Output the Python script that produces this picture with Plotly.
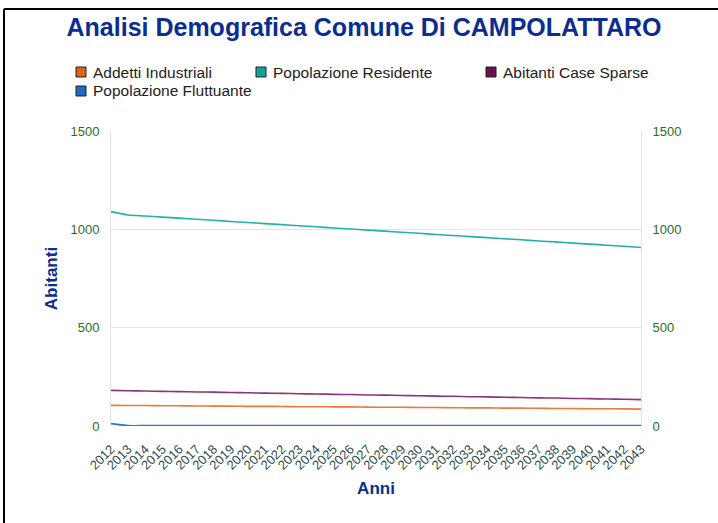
import plotly.graph_objects as go

# dati (valori stimati)
anni = list(range(2012, 2044))

addetti_industriali = [105, 104, 104, 103, 103, 102, 101, 101, 100, 100, 99, 98, 98, 97, 97, 96,
                       95, 95, 94, 94, 93, 92, 92, 91, 91, 90, 89, 89, 88, 88, 87, 86]
popolazione_residente = [1090, 1073, 1068, 1062, 1057, 1051, 1046, 1040, 1035, 1029, 1024, 1018,
                         1013, 1007, 1002, 996, 991, 985, 980, 974, 969, 963, 958, 952, 947, 941,
                         936, 930, 925, 919, 914, 908]
abitanti_case_sparse = [181, 179, 178, 176, 175, 173, 172, 170, 169, 167, 166, 164, 163, 161, 160,
                        158, 157, 155, 154, 152, 151, 149, 148, 146, 145, 143, 142, 140, 139, 137,
                        136, 134]
popolazione_fluttuante = [12, 2, 2, 2, 2, 2, 2, 2, 2, 2, 2, 2, 2, 2, 2, 2,
                          2, 2, 2, 2, 2, 2, 2, 2, 2, 2, 2, 2, 2, 2, 2, 2]

y_ticks = [0, 500, 1000, 1500]

series = [
    ("Addetti Industriali", addetti_industriali, "#ec7a36", "#dc6418"),
    ("Popolazione Residente", popolazione_residente, "#22b0ab", "#15a09a"),
    ("Abitanti Case Sparse", abitanti_case_sparse, "#8a3479", "#6b0f4f"),
    ("Popolazione Fluttuante", popolazione_fluttuante, "#2479cc", "#1c6cc0"),
]

# area del grafico in pixel
W, H = 718, 523
L, R, T, B = 111, 641, 131, 426


def px(x):
    return (x - L) / (R - L)


def py(y):
    return (B - y) / (B - T)


fig = go.Figure()

for name, vals, line_col, sw_col in series:
    fig.add_trace(go.Scatter(
        x=anni, y=vals, mode="lines", name=name, showlegend=False,
        line=dict(color=line_col, width=1.6, shape="spline", smoothing=0.6),
    ))

# asse destro con gli stessi valori
fig.add_trace(go.Scatter(x=[None], y=[None], yaxis="y2", showlegend=False, hoverinfo="skip"))

# legenda disegnata a mano: (x quadratino, y riga)
legend_pos = [(76, 72), (256, 72), (486, 72), (76, 91)]
for (name, vals, line_col, sw_col), (lx, ly) in zip(series, legend_pos):
    fig.add_shape(type="rect", xref="paper", yref="paper",
                  x0=px(lx), x1=px(lx + 10), y0=py(ly - 5), y1=py(ly + 5),
                  fillcolor=sw_col, line=dict(color="#222222", width=1))
    fig.add_annotation(text=name, xref="paper", yref="paper", x=px(lx + 15), y=py(ly),
                       xanchor="left", yanchor="middle", showarrow=False,
                       font=dict(size=15.5, color="#222222"))

# cornice nera (alto e sinistra)
fig.add_shape(type="line", xref="paper", yref="paper", x0=px(4), x1=px(730), y0=py(9), y1=py(9),
              line=dict(color="black", width=2))
fig.add_shape(type="line", xref="paper", yref="paper", x0=px(4), x1=px(4), y0=py(9), y1=py(540),
              line=dict(color="black", width=2))

fig.update_layout(
    width=W, height=H,
    margin=dict(l=L, r=W - R, t=T, b=H - B),
    paper_bgcolor="white", plot_bgcolor="white",
    font=dict(family="Liberation Sans, Arial, sans-serif"),
    showlegend=False,
    title=dict(text="<b>Analisi Demografica Comune Di CAMPOLATTARO</b>",
               x=px(364), xref="paper", xanchor="center",
               y=1 - 27 / H, yref="container", yanchor="middle",
               font=dict(size=25, color="#0a2d8f")),
    xaxis=dict(range=[2012, 2043], tickmode="array", tickvals=anni, ticktext=[str(a) for a in anni],
               tickangle=-45, tickfont=dict(size=13, color="#2f4f4f"), showgrid=False,
               zeroline=False, showline=False, ticks="", ticklabelstandoff=12,
               title=dict(text="<b>Anni</b>", font=dict(size=17, color="#0a2d8f"), standoff=10)),
    yaxis=dict(range=[0, 1500], tickvals=y_ticks, tickfont=dict(size=13, color="#2e6b1f"),
               showgrid=True, gridcolor="#e2e2ea", gridwidth=1, zeroline=False,
               showline=True, linecolor="#e2e2ea", ticks="", ticklabelstandoff=8,
               title=dict(text="<b>Abitanti</b>", font=dict(size=17, color="#0a2d8f"), standoff=8)),
    yaxis2=dict(range=[0, 1500], tickvals=y_ticks, overlaying="y", side="right",
                tickfont=dict(size=13, color="#2e6b1f"), showgrid=False, zeroline=False,
                showline=True, linecolor="#e2e2ea", ticks="", ticklabelstandoff=8),
)

fig.write_html("out.html", config={"displayModeBar": False},
               post_script="document.body.style.margin = '0';")
